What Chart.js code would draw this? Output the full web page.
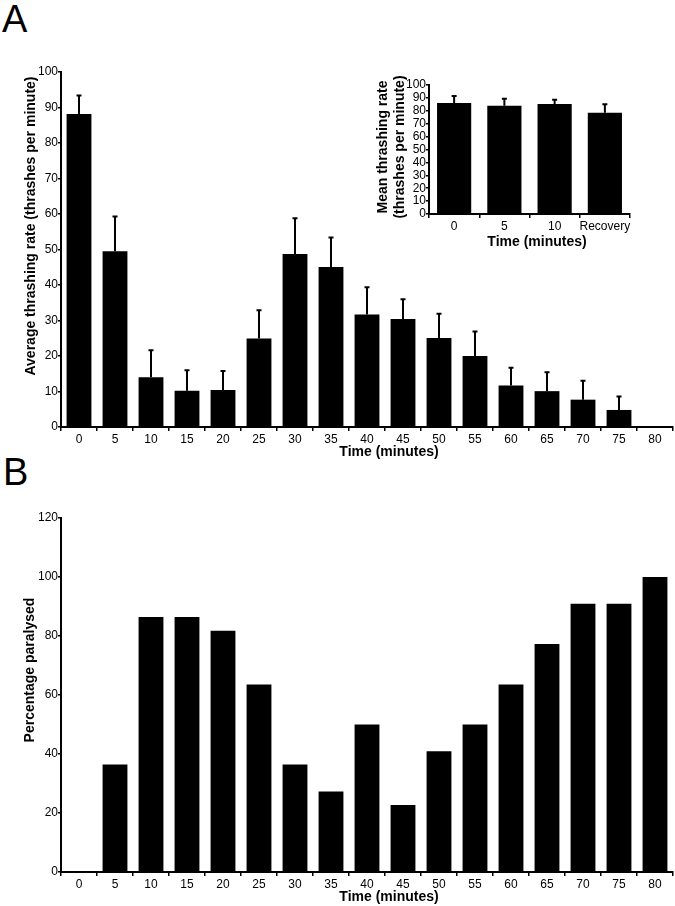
<!DOCTYPE html>
<html>
<head>
<meta charset="utf-8">
<script src="https://cdn.jsdelivr.net/npm/chart.js@4.4.1/dist/chart.umd.min.js"></script>
<style>
  body { margin: 0; background: #fff; font-family: "Liberation Sans", Arial, sans-serif; color: #000; }
  #page { position: relative; width: 675px; height: 906px; overflow: hidden; }
  canvas { position: absolute; }
  .panel { position: absolute; font-size: 38px; line-height: 1; }
  .titulo { position: absolute; font-size: 14px; font-weight: bold; white-space: nowrap; line-height: 1;
            transform: translate(-50%, -50%); }
  .vert { transform: translate(-50%, -50%) rotate(-90deg); }
</style>
</head>
<body>
<div id="page">
  <div class="panel" style="left:2px; top:0px;">A</div>
  <div class="panel" style="left:3px; top:453px;">B</div>

  <canvas id="chartA" width="675" height="400" style="left:0; top:60px;"></canvas>
  <canvas id="chartInset" width="300" height="165" style="left:340px; top:70px;"></canvas>
  <canvas id="chartB" width="675" height="400" style="left:0; top:505px;"></canvas>

  <div class="titulo vert" style="left:30px; top:226px;">Average thrashing rate (thrashes per minute)</div>
  <div class="titulo" style="left:389px; top:451px;">Time (minutes)</div>
  <div class="titulo vert" style="left:382px; top:147px;">Mean thrashing rate</div>
  <div class="titulo vert" style="left:399px; top:147px;">(thrashes per minute)</div>
  <div class="titulo" style="left:537px; top:241px;">Time (minutes)</div>
  <div class="titulo vert" style="left:29px; top:670px;">Percentage paralysed</div>
  <div class="titulo" style="left:389px; top:896px;">Time (minutes)</div>
</div>

<script>
// --- datos ---
const tiempos = ['0', '5', '10', '15', '20', '25', '30', '35', '40', '45', '50', '55', '60', '65', '70', '75', '80'];

// Panel A: media de thrashes por minuto y error (SEM, solo hacia arriba)
const thrashMedia = [88.2, 49.5, 14.0, 10.2, 10.4, 24.9, 48.7, 45.1, 31.7, 30.4, 25.1, 20.0, 11.7, 10.1, 7.7, 4.8, 0];
const thrashError = [5.2, 9.8, 7.6, 5.8, 5.4, 8.0, 10.1, 8.3, 7.7, 5.6, 6.8, 6.9, 5.0, 5.3, 5.3, 3.8, 0];

// Inset
const insetCategorias = ['0', '5', '10', 'Recovery'];
const insetMedia = [86.0, 84.0, 85.3, 78.5];
const insetError = [5.5, 5.4, 3.3, 6.5];

// Panel B: porcentaje paralizado
const paralizados = [0, 36.4, 86.4, 86.4, 81.8, 63.6, 36.4, 27.3, 50.0, 22.7, 40.9, 50.0, 63.6, 77.3, 90.9, 90.9, 100];

// --- plugin de barras de error ---
const barrasError = {
    id: 'barrasError',
    afterDatasetsDraw(chart, args, opts) {
        const errores = opts.errores;
        if (!errores) return;
        const meta = chart.getDatasetMeta(0);
        const escalaY = chart.scales.y;
        const valores = chart.data.datasets[0].data;
        const ctx = chart.ctx;
        ctx.save();
        ctx.strokeStyle = '#000';
        ctx.lineWidth = 2;
        meta.data.forEach((barra, i) => {
            if (!errores[i]) return;
            const yTope = escalaY.getPixelForValue(valores[i] + errores[i]);
            ctx.beginPath();
            ctx.moveTo(barra.x, barra.y);
            ctx.lineTo(barra.x, yTope);
            ctx.moveTo(barra.x - 2.5, yTope);
            ctx.lineTo(barra.x + 2.5, yTope);
            ctx.stroke();
        });
        ctx.restore();
    }
};

// opciones comunes de ejes
function ejeX(alto, fuente) {
    return {
        grid: { offset: true, drawOnChartArea: false, tickLength: 4, color: '#000', lineWidth: 1.5 },
        border: { color: '#000', width: 2 },
        ticks: { color: '#000', font: { family: 'Liberation Sans', size: fuente }, padding: 1, autoSkip: false, maxRotation: 0 },
        afterFit: s => { s.height = alto; }
    };
}

function ejeY(max, paso, ancho) {
    return {
        min: 0,
        max: max,
        grid: { drawOnChartArea: false, tickLength: 3, color: '#000', lineWidth: 1.5 },
        border: { color: '#000', width: 2 },
        ticks: { stepSize: paso, color: '#000', font: { family: 'Liberation Sans', size: 12 }, padding: 0, autoSkip: false },
        afterFit: s => { s.width = ancho; }
    };
}

function opcionesBase(padding, escalas, errores) {
    return {
        responsive: false,
        animation: false,
        layout: { padding: padding },
        plugins: {
            legend: { display: false },
            tooltip: { enabled: false },
            barrasError: { errores: errores }
        },
        scales: escalas
    };
}

// --- Panel A ---
new Chart(document.getElementById('chartA'), {
    type: 'bar',
    data: {
        labels: tiempos,
        datasets: [{ data: thrashMedia, backgroundColor: '#000', barPercentage: 0.69, categoryPercentage: 1 }]
    },
    options: opcionesBase({ top: 12, right: 2, left: 0, bottom: 0 },
        { x: ejeX(33, 12), y: ejeY(100, 10, 61) }, thrashError),
    plugins: [barrasError]
});

// --- Inset ---
new Chart(document.getElementById('chartInset'), {
    type: 'bar',
    data: {
        labels: insetCategorias,
        datasets: [{ data: insetMedia, backgroundColor: '#000', barPercentage: 0.68, categoryPercentage: 1 }]
    },
    options: opcionesBase({ top: 15, right: 10, left: 0, bottom: 0 },
        { x: ejeX(21, 12), y: ejeY(100, 10, 89) }, insetError),
    plugins: [barrasError]
});

// --- Panel B ---
new Chart(document.getElementById('chartB'), {
    type: 'bar',
    data: {
        labels: tiempos,
        datasets: [{ data: paralizados, backgroundColor: '#000', barPercentage: 0.69, categoryPercentage: 1 }]
    },
    options: opcionesBase({ top: 13, right: 2, left: 0, bottom: 0 },
        { x: ejeX(33, 12), y: ejeY(120, 20, 61) }, null),
    plugins: [barrasError]
});
</script>
</body>
</html>
